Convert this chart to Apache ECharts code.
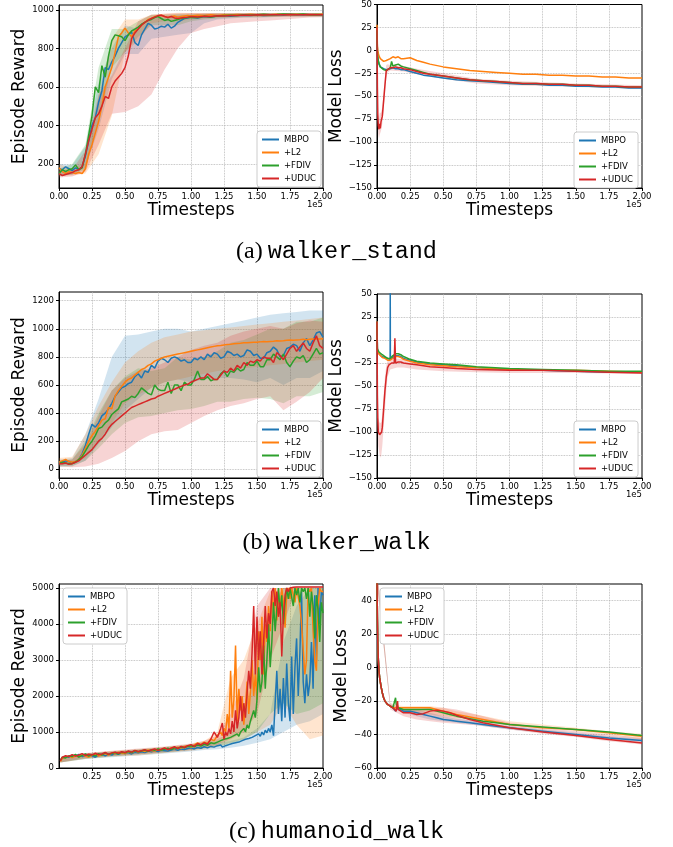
<!DOCTYPE html>
<html><head><meta charset="utf-8">
<script src="https://cdn.jsdelivr.net/npm/echarts/dist/echarts.min.js"></script>
<style>html,body{margin:0;padding:0;background:#fff}#c{width:673px;height:847px}</style>
</head><body><div id="c"></div><script>
const NAMES = ['MBPO', '+L2', '+FDIV', '+UDUC'];
const COLORS = ['#1f77b4', '#ff7f0e', '#2ca02c', '#d62728'];
const X_TICKS = [0, 0.25, 0.5, 0.75, 1.0, 1.25, 1.5, 1.75, 2.0]; // x 1e5

// ---------- (a) walker_stand : Episode Reward ----------
const wsR_x = [0,0.025,0.05,0.075,0.1,0.125,0.15,0.175,0.2,0.225,0.25,0.275,0.3,0.325,0.35,0.375,0.4,0.425,0.45,0.475,0.5,0.525,0.55,0.575,0.6,0.625,0.65,0.675,0.7,0.725,0.75,0.775,0.8,0.825,0.85,0.875,0.9,0.925,0.95,0.975,1.0,1.05,1.1,1.15,1.2,1.25,1.3,1.35,1.4,1.45,1.5,1.55,1.6,1.65,1.7,1.75,1.8,1.85,1.9,1.95,2.0];
const wsR_mbpo = [175,170,185,175,165,180,170,185,240,320,400,440,520,580,700,690,730,760,800,830,860,870,885,830,815,870,900,930,920,900,905,915,910,925,905,915,935,945,955,958,962,958,965,962,968,970,966,970,972,970,973,970,972,975,972,974,975,973,975,974,975];
const wsR_l2 = [180,160,150,160,155,150,155,150,175,250,300,360,420,500,600,650,700,780,860,880,905,880,860,890,900,920,935,950,955,965,968,972,965,960,965,968,962,965,968,970,968,972,970,974,971,975,973,976,974,977,975,976,974,977,976,975,977,976,975,976,977];
const wsR_fdiv = [150,170,160,170,175,195,170,180,250,350,450,600,570,710,650,760,840,870,865,860,840,870,890,900,910,925,935,945,950,960,965,955,945,950,940,945,950,955,958,960,962,960,966,963,968,970,972,971,974,973,975,977,975,976,978,977,976,978,975,976,975];
const wsR_uduc = [150,140,145,150,155,165,170,185,250,320,380,440,460,500,550,540,600,630,650,670,700,760,850,880,900,920,935,945,955,962,970,972,965,960,965,958,955,958,960,962,965,963,967,965,969,968,971,970,973,972,974,973,975,974,975,976,975,974,976,975,975];
const wsR_bx = [0,0.1,0.2,0.3,0.4,0.5,0.6,0.7,0.8,0.9,1.0,1.1,1.2,1.3,1.4,1.5,1.6,1.7,1.8,1.9,2.0];
const wsR_mbpo_lo = [140,145,180,380,640,770,770,850,860,870,880,930,950,955,960,960,962,965,965,965,965];
const wsR_mbpo_hi = [200,195,290,620,800,920,900,960,960,970,975,980,980,980,982,982,983,983,983,983,983];
const wsR_l2_lo = [140,140,150,250,450,780,840,930,940,940,950,955,960,962,962,963,963,964,965,965,965];
const wsR_l2_hi = [200,175,210,550,850,950,950,975,980,985,983,983,983,983,983,983,983,983,983,983,983];
const wsR_fdiv_lo = [135,145,170,420,700,780,860,920,920,920,940,950,955,960,962,962,963,965,965,965,965];
const wsR_fdiv_hi = [175,200,300,700,900,900,940,975,975,978,980,980,981,981,981,981,982,982,982,982,982];
const wsR_uduc_lo = [130,135,160,300,460,470,500,560,690,800,880,900,915,930,935,940,945,950,955,960,962];
const wsR_uduc_hi = [170,170,270,560,660,800,940,975,980,982,983,983,983,983,983,983,983,983,983,983,983];

// ---------- (a) walker_stand : Model Loss ----------
const wsL_x = [0,0.003,0.006,0.01,0.015,0.02,0.025,0.03,0.04,0.05,0.06,0.07,0.08,0.1,0.11,0.12,0.14,0.16,0.18,0.2,0.25,0.3,0.35,0.4,0.5,0.6,0.7,0.8,0.9,1.0,1.1,1.2,1.3,1.4,1.5,1.6,1.7,1.8,1.9,2.0];
const wsL_mbpo = [25,0,-8,-12,-15,-17,-18,-19,-20,-20,-21,-21,-20,-20,-19,-19,-20,-20,-21,-21,-23,-25,-27,-28,-30,-32,-33,-34,-35,-36,-37,-37,-38,-38,-39,-39,-40,-40,-41,-41];
const wsL_l2 = [28,5,0,-3,-6,-8,-9,-10,-11,-12,-12,-11,-10,-9,-8,-7,-8,-7,-9,-9,-8,-11,-13,-15,-18,-20,-22,-23,-24,-25,-26,-26,-27,-27,-28,-28,-29,-29,-30,-30];
const wsL_fdiv = [22,-2,-8,-11,-14,-16,-18,-18,-20,-21,-22,-22,-21,-19,-12,-17,-16,-15,-17,-18,-20,-22,-24,-26,-28,-30,-32,-33,-34,-35,-36,-36,-37,-37,-38,-38,-39,-39,-40,-40];
const wsL_uduc = [25,-40,-70,-82,-86,-80,-85,-78,-72,-55,-38,-22,-20,-19,-20,-19,-18,-19,-19,-20,-21,-23,-25,-26,-28,-30,-32,-33,-34,-35,-36,-36,-37,-37,-38,-38,-39,-39,-40,-40];
const wsL_bx = [0,0.006,0.01,0.015,0.02,0.03,0.04,0.05,0.06,0.07,0.08,0.1,0.2,0.3,0.5,0.75,1.0,1.5,2.0];
const wsL_uduc_lo = [20,-80,-92,-96,-92,-88,-80,-65,-45,-30,-24,-22,-23,-26,-31,-36,-38,-40,-42];
const wsL_uduc_hi = [30,-55,-70,-75,-68,-68,-62,-45,-28,-16,-15,-16,-17,-20,-25,-31,-33,-36,-38];

// ---------- (b) walker_walk : Episode Reward ----------
const wwR_x = [0,0.025,0.05,0.075,0.1,0.125,0.15,0.175,0.2,0.225,0.25,0.275,0.3,0.325,0.35,0.375,0.4,0.425,0.45,0.475,0.5,0.525,0.55,0.575,0.6,0.625,0.65,0.675,0.7,0.725,0.75,0.775,0.8,0.825,0.85,0.875,0.9,0.925,0.95,0.975,1.0,1.025,1.05,1.075,1.1,1.125,1.15,1.175,1.2,1.225,1.25,1.275,1.3,1.325,1.35,1.375,1.4,1.425,1.45,1.475,1.5,1.525,1.55,1.575,1.6,1.625,1.65,1.675,1.7,1.725,1.75,1.775,1.8,1.825,1.85,1.875,1.9,1.925,1.95,1.975,2.0];
const wwR_mbpo = [45,50,60,55,45,55,70,110,170,250,320,300,330,380,400,430,470,520,550,580,590,610,620,660,680,650,700,690,740,720,770,790,780,760,790,800,790,770,780,760,760,790,780,800,780,820,800,830,820,790,800,840,830,810,820,800,810,850,840,810,820,790,790,830,840,870,850,800,810,860,870,890,880,840,900,930,880,920,970,980,940];
const wwR_l2 = [50,60,70,55,50,55,70,100,150,200,240,270,310,350,360,440,430,520,560,590,620,640,650,670,690,710,720,740,750,770,780,790,800,805,810,815,820,825,830,835,840,845,850,855,860,865,870,875,880,882,885,888,890,893,895,897,900,900,903,905,905,907,910,908,910,912,915,913,915,918,920,918,920,922,925,922,925,928,930,928,930];
const wwR_fdiv = [40,50,45,40,40,50,70,90,130,170,200,240,290,300,330,350,390,410,430,480,490,500,520,510,540,580,560,540,530,600,570,560,560,620,540,600,600,560,620,600,600,640,700,640,640,660,630,640,640,680,700,660,700,690,720,700,710,760,740,740,770,730,730,780,780,820,800,780,820,760,730,770,800,790,810,760,780,820,860,820,830];
const wwR_uduc = [40,40,45,35,40,50,60,80,100,120,140,170,200,220,250,290,320,340,360,380,400,420,440,450,460,470,480,490,500,505,520,530,540,550,560,570,580,590,600,605,620,630,640,650,650,680,660,640,640,670,700,690,720,700,740,720,760,740,770,760,780,770,800,790,790,760,830,810,780,820,860,880,840,870,900,860,840,900,950,880,860];
const wwR_bx = [0,0.1,0.2,0.3,0.4,0.5,0.6,0.7,0.8,0.9,1.0,1.1,1.2,1.3,1.4,1.5,1.6,1.7,1.8,1.9,2.0];
const wwR_mbpo_lo = [20,25,60,180,300,420,500,580,620,640,620,640,650,650,640,620,650,600,650,650,700];
const wwR_mbpo_hi = [70,80,250,500,800,950,960,980,1000,1000,980,1000,1020,1040,1060,1080,1100,1110,1120,1130,1130];
const wwR_l2_lo = [30,35,80,200,330,470,530,580,620,640,660,680,700,710,720,730,740,750,760,770,780];
const wwR_l2_hi = [80,90,250,450,620,760,840,900,940,960,980,990,1000,1010,1020,1030,1040,1050,1060,1070,1080];
const wwR_fdiv_lo = [20,20,60,150,250,330,370,380,400,420,430,450,480,480,500,510,500,470,520,520,550];
const wwR_fdiv_hi = [60,70,200,400,560,660,720,700,720,800,780,800,840,900,920,960,1000,1000,1050,1050,1080];
const wwR_uduc_lo = [20,15,20,40,80,130,200,250,270,280,330,380,420,450,470,500,520,420,480,550,650];
const wwR_uduc_hi = [60,70,180,380,560,650,700,720,760,800,850,880,900,950,980,1000,1020,1000,1040,1060,1050];

// ---------- (b) walker_walk : Model Loss ----------
const wwL_x = [0,0.003,0.006,0.01,0.015,0.02,0.025,0.03,0.035,0.04,0.05,0.06,0.07,0.08,0.09,0.099,0.1,0.101,0.11,0.12,0.13,0.135,0.14,0.16,0.18,0.2,0.25,0.3,0.4,0.5,0.6,0.75,1.0,1.25,1.5,1.75,2.0];
const wwL_mbpo = [20,-8,-12,-14,-15,-16,-17,-17,-18,-18,-18,-19,-20,-20,-21,-21,60,-21,-20,-19,-18,-18,-17,-17,-18,-20,-22,-24,-26,-27,-28,-30,-32,-33,-34,-35,-35];
const wwL_l2 = [20,-10,-13,-14,-15,-16,-17,-18,-18,-19,-19,-20,-21,-22,-22,-22,-22,-21,-21,-20,-19,-19,-18,-18,-19,-21,-23,-25,-27,-28,-29,-30,-32,-33,-33,-34,-35];
const wwL_fdiv = [20,-10,-11,-12,-13,-14,-14,-15,-15,-16,-17,-18,-19,-20,-20,-20,-20,-19,-18,-17,-16,-16,-15,-15,-16,-18,-21,-23,-25,-26,-27,-29,-31,-32,-33,-34,-34];
const wwL_uduc = [20,-60,-85,-100,-102,-103,-105,-104,-100,-95,-75,-55,-40,-30,-27,-26,-26,-26,-25,-25,-25,2,-25,-24,-24,-25,-26,-27,-29,-30,-31,-32,-33,-33,-34,-35,-36];
const wwL_bx = [0,0.003,0.01,0.02,0.03,0.04,0.05,0.06,0.07,0.08,0.1,0.15,0.2,0.3,0.5,0.75,1.0,1.5,2.0];
const wwL_uduc_lo = [15,-75,-115,-125,-128,-115,-95,-75,-55,-40,-32,-30,-30,-32,-34,-35,-36,-36,-37];
const wwL_uduc_hi = [25,-45,-85,-90,-90,-82,-60,-40,-28,-22,-22,-20,-21,-23,-27,-30,-31,-33,-35];

// ---------- (c) humanoid_walk : Episode Reward ----------
const huR_x = [0.01,0.025,0.05,0.075,0.1,0.125,0.15,0.175,0.2,0.225,0.25,0.275,0.3,0.325,0.35,0.375,0.4,0.425,0.45,0.475,0.5,0.525,0.55,0.575,0.6,0.625,0.65,0.675,0.7,0.725,0.75,0.775,0.8,0.825,0.85,0.875,0.9,0.925,0.95,0.975,1.0,1.025,1.05,1.075,1.1,1.125,1.15,1.175,1.2,
  1.2125,1.225,1.2375,1.25,1.2625,1.275,1.2875,1.3,1.3125,1.325,1.3375,1.35,1.3625,1.375,1.3875,1.4,1.4125,1.425,1.4375,1.45,1.4625,1.475,1.4875,1.5,1.5125,1.525,1.5375,1.55,1.5625,1.575,1.5875,1.6,1.6125,1.625,1.6375,1.65,1.6625,1.675,1.6875,1.7,1.7125,1.725,1.7375,1.75,1.7625,1.775,1.7875,1.8,1.8125,1.825,1.8375,1.85,1.8625,1.875,1.8875,1.9,1.9125,1.925,1.9375,1.95,1.9625,1.975,1.9875,2.0];
const huR_mbpo = [200,280,320,300,350,330,380,320,330,360,340,300,350,380,340,380,360,400,380,420,400,430,390,440,420,450,430,470,450,480,460,490,480,470,500,520,490,530,510,540,560,530,570,550,590,560,600,580,620,
  600,640,580,560,620,600,650,620,680,640,700,680,720,700,760,720,800,760,820,780,850,800,900,850,950,880,1000,920,1050,980,1100,1000,1200,900,1800,2700,1500,2200,1300,2500,1400,2900,1800,1300,3100,1500,2800,3600,2000,3200,4900,2400,1800,2600,2000,2400,3500,2200,4800,3000,5000,4000,4900,4800];
const huR_l2 = [180,260,300,330,290,340,310,360,330,300,350,380,330,370,400,360,420,390,440,410,400,450,420,470,440,480,460,500,480,470,520,500,540,510,560,530,580,550,600,620,580,640,700,650,720,680,800,760,900,
  850,1000,900,1100,1000,1500,1100,2700,1400,1900,3400,1300,2200,1600,2000,1200,1700,2400,1500,2100,3000,2000,2600,1900,3800,3000,4200,2600,4000,3500,4500,3800,4900,4300,5000,4100,4800,4400,5000,4600,3900,4800,5000,4700,5000,5000,4600,5000,5000,4500,4000,3300,2600,3000,5000,4900,5000,3800,3000,2700,4500,5000,4900,4900];
const huR_fdiv = [220,300,280,340,320,380,300,350,390,330,370,340,400,360,420,380,400,430,390,440,420,460,430,480,450,470,500,460,510,490,530,500,520,550,510,560,540,580,560,600,620,590,640,610,660,630,700,680,720,
  700,760,720,800,760,820,780,850,800,900,850,950,880,1000,950,1100,1000,1200,1100,1300,1250,1600,1400,1900,2800,2100,2400,3400,2200,3000,4000,2800,3500,4600,3800,4400,5000,4300,4800,4000,4600,5000,4700,5000,5000,4500,5000,4800,5000,4600,5000,4900,5000,4700,5000,4200,4900,4500,3600,4800,4400,3500,4600,4300];
const huR_uduc = [200,300,340,320,370,330,360,400,350,380,360,410,370,390,430,380,420,440,410,450,430,470,440,490,460,480,510,470,500,530,490,520,560,510,550,590,540,600,570,620,650,600,680,640,700,660,800,1000,850,
  900,1100,1250,800,1000,900,1100,950,1300,1000,1600,1100,1400,2000,1300,1800,1400,2100,2700,2200,3200,4500,2600,4200,3000,3800,2600,3500,4500,3600,4300,4000,4900,5000,4500,4900,4200,4600,3100,4200,4800,5000,4900,5000,5020,5020,5030,5030,5030,5030,5030,5030,5030,5030,5030,5030,5030,5030,5030,5030,5030,5030,5030,5030];
const huR_bx = [0.01,0.2,0.4,0.6,0.8,1.0,1.1,1.2,1.3,1.4,1.5,1.6,1.7,1.8,1.9,2.0];
const huR_mbpo_lo = [150,250,300,350,400,460,500,520,560,620,700,800,1000,1200,1300,1500];
const huR_mbpo_hi = [250,400,450,500,560,620,660,700,750,850,1100,1500,3500,4500,5000,5000];
const huR_l2_lo = [150,250,320,350,420,480,520,600,700,800,1000,1200,1800,1200,800,900];
const huR_l2_hi = [250,400,470,520,580,650,750,1000,2500,3000,4000,4900,5000,5000,5000,5000];
const huR_fdiv_lo = [150,260,320,380,430,500,550,600,650,800,1000,1500,1800,1500,1600,1800];
const huR_fdiv_hi = [250,400,460,520,580,660,720,800,1000,1400,3000,4500,5000,5000,5000,5000];
const huR_uduc_lo = [150,280,330,380,440,500,560,650,800,1000,1500,3000,4000,5000,5000,5000];
const huR_uduc_hi = [250,420,480,540,600,680,760,900,1500,2500,4500,5000,5000,5050,5050,5050];

// ---------- (c) humanoid_walk : Model Loss ----------
const huL_x = [0,0.003,0.006,0.01,0.015,0.02,0.03,0.04,0.05,0.06,0.08,0.1,0.12,0.135,0.14,0.145,0.155,0.16,0.17,0.2,0.25,0.3,0.35,0.4,0.45,0.5,0.55,0.6,0.7,0.8,0.9,1.0,1.25,1.5,1.75,2.0];
const huL_mbpo = [55,30,15,5,-2,-6,-11,-15,-18,-20,-22,-23,-24,-25,-26,-26,-24,-25,-25,-26,-26,-27,-28,-29,-30,-31,-31.5,-32,-33,-34,-35,-36,-38,-40,-42,-43.5];
const huL_l2 = [55,30,15,5,-2,-6,-11,-15,-18,-20,-22,-23,-24,-25,-25,-24,-23,-24,-24,-24,-24,-24,-24,-24,-25,-26,-27,-28,-29.5,-31,-32.5,-34,-36,-37,-39,-41];
const huL_fdiv = [55,30,15,5,-2,-6,-11,-15,-18,-20,-22,-23,-24,-25,-18,-22,-23,-24,-24,-25,-25,-25,-25,-25,-26,-27,-28,-29,-30.5,-32,-33,-34,-35.5,-37,-38.5,-40.5];
const huL_uduc = [55,30,15,5,-2,-6,-11,-15,-18,-20,-22,-23,-24,-25,-25,-26,-20,-25,-26,-27,-27,-28,-27.5,-26,-25.5,-26,-27,-28.5,-31,-33,-34.5,-36,-38.5,-40.5,-43,-45];
const huL_bx = [0,0.1,0.2,0.3,0.4,0.5,0.6,0.75,1.0,1.25,1.5,1.75,2.0];
const huL_mbpo_lo = [50,-24,-27,-29,-31,-32,-33,-34.5,-37,-39,-41,-43,-44.5];
const huL_mbpo_hi = [60,-22,-25,-25,-27,-29,-30.5,-32,-35,-37,-39,-41,-42.5];
const huL_l2_lo = [50,-24,-26,-27,-28,-29,-30,-31,-34,-36,-38,-40,-43];
const huL_l2_hi = [60,-22,-23,-23,-23,-24,-26,-28,-32,-34,-36,-38,-39.5];
const huL_uduc_lo = [50,-25,-29,-31,-32,-33,-33.5,-34.5,-37,-39.5,-41.5,-44,-46];
const huL_uduc_hi = [60,-21,-25,-25,-24,-24,-25,-28,-33,-36,-38,-40,-42];

// ---------- layout ----------
const FONT = 'DejaVu Sans';
const panels = [
  {grid:{left:59, top:5, width:264, height:183}, y:{min:75, max:1025, splitNumber:5, showMinLabel:false, showMaxLabel:false},
   yName:'Episode Reward', x:wsR_x, lines:[wsR_mbpo, wsR_l2, wsR_fdiv, wsR_uduc],
   bx:wsR_bx, bands:[[wsR_mbpo_lo, wsR_mbpo_hi],[wsR_l2_lo, wsR_l2_hi],[wsR_fdiv_lo, wsR_fdiv_hi],[wsR_uduc_lo, wsR_uduc_hi]],
   legend:{left:257, top:131}},
  {grid:{left:377, top:4, width:265, height:184}, y:{min:-150, max:50, interval:25},
   yName:'Model Loss', x:wsL_x, lines:[wsL_mbpo, wsL_l2, wsL_fdiv, wsL_uduc],
   bx:wsL_bx, bands:[null, null, null, [wsL_uduc_lo, wsL_uduc_hi]],
   legend:{left:574, top:132}},
  {grid:{left:59, top:292, width:264, height:186}, y:{min:-62, max:1262, splitNumber:6, showMinLabel:false, showMaxLabel:false},
   yName:'Episode Reward', x:wwR_x, lines:[wwR_mbpo, wwR_l2, wwR_fdiv, wwR_uduc],
   bx:wwR_bx, bands:[[wwR_mbpo_lo, wwR_mbpo_hi],[wwR_l2_lo, wwR_l2_hi],[wwR_fdiv_lo, wwR_fdiv_hi],[wwR_uduc_lo, wwR_uduc_hi]],
   legend:{left:257, top:421}},
  {grid:{left:377, top:294, width:265, height:184}, y:{min:-150, max:50, interval:25},
   yName:'Model Loss', x:wwL_x, lines:[wwL_mbpo, wwL_l2, wwL_fdiv, wwL_uduc],
   bx:wwL_bx, bands:[null, null, null, [wwL_uduc_lo, wwL_uduc_hi]],
   legend:{left:574, top:421}},
  {grid:{left:59, top:584, width:264, height:184}, y:{min:0, max:5111, interval:1000, showMaxLabel:false},
   yName:'Episode Reward', x:huR_x, lines:[huR_mbpo, huR_l2, huR_fdiv, huR_uduc], hideX0:true,
   bx:huR_bx, bands:[[huR_mbpo_lo, huR_mbpo_hi],[huR_l2_lo, huR_l2_hi],[huR_fdiv_lo, huR_fdiv_hi],[huR_uduc_lo, huR_uduc_hi]],
   legend:{left:63, top:588}},
  {grid:{left:377, top:584, width:265, height:184}, y:{min:-60, max:50, interval:20, showMaxLabel:false},
   yName:'Model Loss', x:huL_x, lines:[huL_mbpo, huL_l2, huL_fdiv, huL_uduc],
   bx:huL_bx, bands:[[huL_mbpo_lo, huL_mbpo_hi],[huL_l2_lo, huL_l2_hi], null, [huL_uduc_lo, huL_uduc_hi]],
   legend:{left:380, top:588}}
];
const CAPTIONS = [['(a)', 'walker_stand', 240], ['(b)', 'walker_walk', 531], ['(c)', 'humanoid_walk', 820]];

const fmtY = v => (v < 0 ? '\u2212' + Math.abs(v) : String(v));
const fmtX = v => v.toFixed(2);

const option = {
  animation: false, backgroundColor: '#fff',
  grid: [], xAxis: [], yAxis: [], series: [], legend: [], title: [], graphic: []
};

panels.forEach((p, i) => {
  option.grid.push(Object.assign({show: true, borderColor: '#000', borderWidth: 1, backgroundColor: 'transparent'}, p.grid));
  option.xAxis.push({
    type: 'value', gridIndex: i, min: X_TICKS[0], max: X_TICKS[X_TICKS.length - 1], interval: X_TICKS[1] - X_TICKS[0],
    name: 'Timesteps', nameLocation: 'middle', nameGap: 12,
    nameTextStyle: {fontFamily: FONT, fontSize: 17, color: '#000', verticalAlign: 'top'},
    axisLine: {onZero: false, lineStyle: {color: '#000', width: 1}},
    axisTick: {show: true, length: 3, inside: false, lineStyle: {color: '#000'}},
    axisLabel: {formatter: fmtX, fontFamily: FONT, fontSize: 8.5, color: '#000', margin: 4, showMinLabel: !p.hideX0},
    splitLine: {show: true, showMinLine: false, showMaxLine: false, lineStyle: {type: 'dotted', color: '#b0b0b0', width: 0.8}}
  });
  const ya = {
    type: 'value', gridIndex: i, min: p.y.min, max: p.y.max,
    name: p.yName, nameLocation: 'middle', nameGap: 26, nameRotate: 90,
    nameTextStyle: {fontFamily: FONT, fontSize: 17, color: '#000'},
    axisLine: {show: true, onZero: false, lineStyle: {color: '#000', width: 1}},
    axisTick: {show: true, length: 3, inside: false, lineStyle: {color: '#000'}},
    axisLabel: {formatter: fmtY, fontFamily: FONT, fontSize: 8.5, color: '#000', margin: 5,
      showMinLabel: p.y.showMinLabel !== false, showMaxLabel: p.y.showMaxLabel !== false},
    splitLine: {show: true, showMinLine: false, showMaxLine: false, lineStyle: {type: 'dotted', color: '#b0b0b0', width: 0.8}}
  };
  if (p.y.interval) ya.interval = p.y.interval;
  if (p.y.splitNumber) ya.splitNumber = p.y.splitNumber;
  option.yAxis.push(ya);

  p.bands.forEach((b, s) => {
    if (!b) return;
    const lo = b[0], hi = b[1], bx = p.bx;
    option.series.push({
      type: 'custom', xAxisIndex: i, yAxisIndex: i, silent: true, clip: true, z: 1,
      data: [[bx[0], lo[0]]],
      renderItem: (params, api) => {
        const pts = [];
        for (let k = 0; k < bx.length; k++) pts.push(api.coord([bx[k], hi[k]]));
        for (let k = bx.length - 1; k >= 0; k--) pts.push(api.coord([bx[k], lo[k]]));
        return {type: 'polygon', shape: {points: pts}, style: {fill: COLORS[s], opacity: 0.2}};
      }
    });
  });
  p.lines.forEach((ys, s) => {
    option.series.push({
      type: 'line', name: NAMES[s], xAxisIndex: i, yAxisIndex: i, z: 3,
      data: p.x.map((x, k) => [x, ys[k]]),
      showSymbol: false, symbol: 'none', clip: true,
      lineStyle: {width: 1.5, color: COLORS[s]}, itemStyle: {color: COLORS[s]}
    });
  });
  option.legend.push({
    data: NAMES, orient: 'vertical', left: p.legend.left, top: p.legend.top,
    icon: 'rect', itemWidth: 17, itemHeight: 2, itemGap: 2,
    padding: [3, 5, 3, 5], backgroundColor: '#fff', borderColor: '#cccccc', borderWidth: 1, borderRadius: 3,
    textStyle: {fontFamily: FONT, fontSize: 8.5, lineHeight: 11, color: '#000'}, selectedMode: false, z: 10
  });
  const g = p.grid;
  option.graphic.push({
    type: 'text', x: g.left + g.width, y: g.top + g.height + 12, z: 10,
    style: {text: '1e5', fontFamily: FONT, fontSize: 8.5, fill: '#000', align: 'right', verticalAlign: 'top'}
  });
});

CAPTIONS.forEach(c => {
  option.title.push({
    text: '{a|' + c[0] + '} {b|' + c[1] + '}', left: 'center', top: c[2], padding: 0,
    textStyle: {fontFamily: 'Liberation Serif', fontSize: 20, fontWeight: 'normal', color: '#000',
      rich: {a: {fontFamily: 'Liberation Serif', fontSize: 24, fontWeight: 'normal', color: '#000'},
             b: {fontFamily: 'Liberation Mono', fontSize: 23.5, fontWeight: 'normal', color: '#000'}}}
  });
});

const chart = echarts.init(document.getElementById('c'), null, {renderer: 'canvas'});
chart.setOption(option);
</script></body></html>
